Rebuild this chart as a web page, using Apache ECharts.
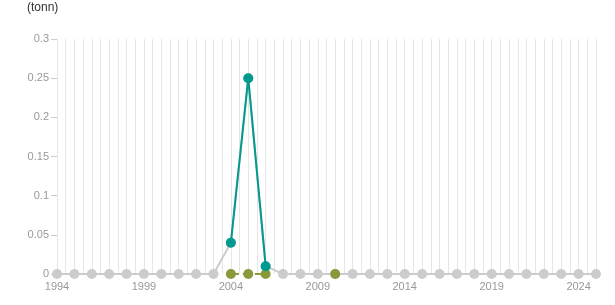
<!DOCTYPE html>
<html><head><meta charset="utf-8">
<script src="https://cdn.jsdelivr.net/npm/echarts@6/dist/echarts.min.js"></script>
<style>html,body{margin:0;padding:0;background:#fff}#c{width:615px;height:305px}</style>
</head><body><div id="c"></div>
<script>
var years = [];
for (var y = 1994; y <= 2025; y++) years.push(y);
var unitLabel = '(tonn)';
var labelYears = [1994, 1999, 2004, 2009, 2014, 2019, 2024];
// teal series values
var tealYears = [2004, 2005, 2006];
var tealValues = [0.04, 0.25, 0.01];
// olive series (zero values)
var oliveYears = [2004, 2005, 2006, 2010];
var oliveValues = [0, 0, 0, 0];
// grey background series (all years)
var greyOverrides = {2004: 0.04, 2005: 0.25, 2006: 0.01};

var greyData = years.map(function (yr) {
  return [yr, greyOverrides[yr] !== undefined ? greyOverrides[yr] : 0];
});
var tealData = tealYears.map(function (yr, i) { return [yr, tealValues[i]]; });
var oliveData = years.map(function (yr) {
  var idx = oliveYears.indexOf(yr);
  return [yr, idx >= 0 ? oliveValues[idx] : null];
});

var chart = echarts.init(document.getElementById('c'), null, {renderer: 'canvas'});
chart.setOption({
  animation: false,
  grid: {left: 57, right: 19, top: 39, bottom: 31, containLabel: false},
  graphic: [{type: 'text', left: 27, top: 2, style: {text: unitLabel, fill: '#333', font: '12px "Liberation Sans", Arial, sans-serif'}}],
  xAxis: {
    type: 'value', min: 1994, max: 2025, interval: 0.5,
    axisLine: {show: false},
    axisTick: {show: false},
    splitLine: {show: true, lineStyle: {color: '#e6e6e6', width: 1}},
    axisLabel: {
      color: '#999', fontSize: 11, margin: 7, fontFamily: '"Liberation Sans", Arial, sans-serif',
      showMinLabel: true, showMaxLabel: true,
      formatter: function (v) { return labelYears.indexOf(v) >= 0 ? String(v) : ''; }
    }
  },
  yAxis: {
    type: 'value', min: 0, max: 0.3, interval: 0.05,
    axisLine: {show: false},
    axisTick: {show: true, length: 6, lineStyle: {color: '#ccc'}},
    splitLine: {show: false},
    axisLabel: {color: '#999', fontSize: 11, margin: 8, fontFamily: '"Liberation Sans", Arial, sans-serif'}
  },
  series: [
    {type: 'line', data: greyData, symbol: 'circle', symbolSize: 10, z: 2,
     itemStyle: {color: '#cccccc'}, lineStyle: {color: '#cccccc', width: 2}},
    {type: 'line', data: oliveData, symbol: 'circle', symbolSize: 10, z: 3, connectNulls: false,
     itemStyle: {color: '#8a9a3a'}, lineStyle: {color: '#8a9a3a', width: 2, type: 'dashed'}},
    {type: 'line', data: tealData, symbol: 'circle', symbolSize: 10, z: 4,
     itemStyle: {color: '#009a8e'}, lineStyle: {color: '#009a8e', width: 2}}
  ]
});
</script></body></html>
